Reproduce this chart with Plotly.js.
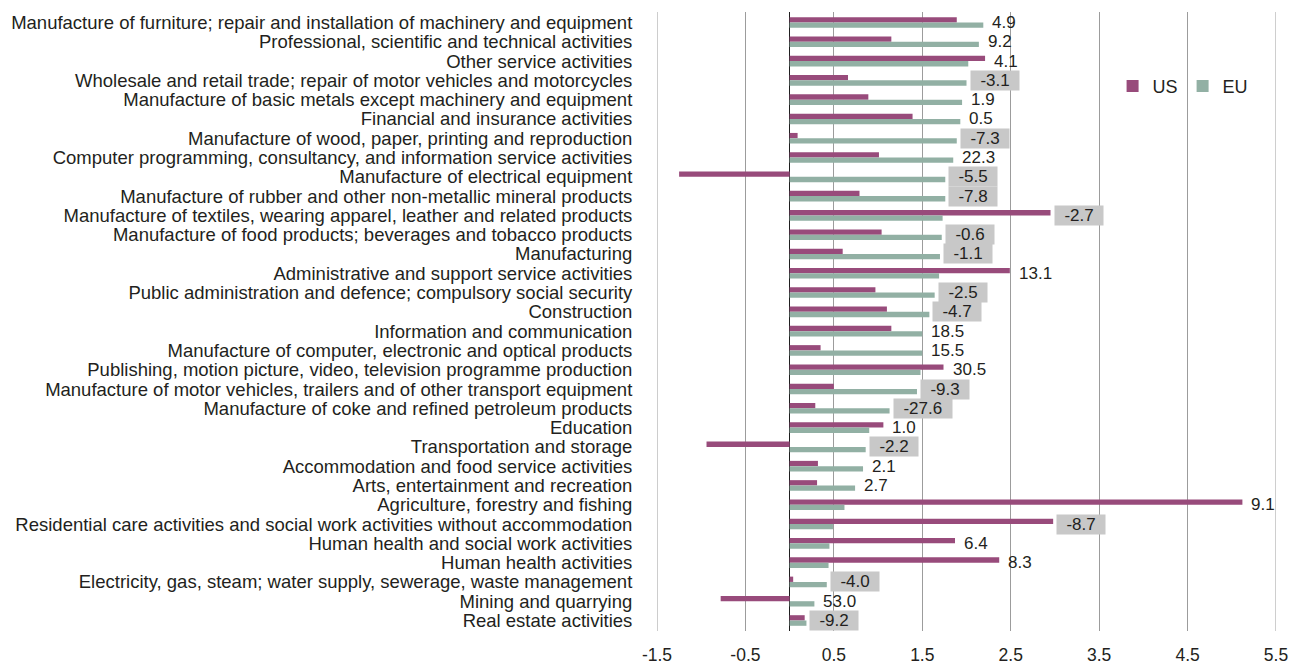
<!DOCTYPE html>
<html>
<head>
<meta charset="utf-8">
<script src="https://cdn.plot.ly/plotly-3.0.1.min.js"></script>
<style>
  html, body { margin: 0; padding: 0; background: #ffffff; }
  #chart { width: 1301px; height: 665px; }
</style>
</head>
<body>
<div id="chart"></div>
<script>
// Sectors, top to bottom
var categories = [
  "Manufacture of furniture; repair and installation of machinery and equipment",
  "Professional, scientific and technical activities",
  "Other service activities",
  "Wholesale and retail trade; repair of motor vehicles and motorcycles",
  "Manufacture of basic metals except machinery and equipment",
  "Financial and insurance activities",
  "Manufacture of wood, paper, printing and reproduction",
  "Computer programming, consultancy, and information service activities",
  "Manufacture of electrical equipment",
  "Manufacture of rubber and other non-metallic mineral products",
  "Manufacture of textiles, wearing apparel, leather and related products",
  "Manufacture of food products; beverages and tobacco products",
  "Manufacturing",
  "Administrative and support service activities",
  "Public administration and defence; compulsory social security",
  "Construction",
  "Information and communication",
  "Manufacture of computer, electronic and optical products",
  "Publishing, motion picture, video, television programme production",
  "Manufacture of motor vehicles, trailers and of other transport equipment",
  "Manufacture of coke and refined petroleum products",
  "Education",
  "Transportation and storage",
  "Accommodation and food service activities",
  "Arts, entertainment and recreation",
  "Agriculture, forestry and fishing",
  "Residential care activities and social work activities without accommodation",
  "Human health and social work activities",
  "Human health activities",
  "Electricity, gas, steam; water supply, sewerage, waste management",
  "Mining and quarrying",
  "Real estate activities"
];

// US series
var usValues = [1.89, 1.15, 2.21, 0.66, 0.89, 1.39, 0.09, 1.01, -1.25, 0.79,
                2.95, 1.04, 0.60, 2.49, 0.97, 1.10, 1.15, 0.35, 1.74, 0.50,
                0.29, 1.06, -0.94, 0.32, 0.31, 5.12, 2.98, 1.87, 2.37, 0.04,
                -0.78, 0.17];

// EU series
var euValues = [2.19, 2.14, 2.02, 2.00, 1.95, 1.93, 1.89, 1.85, 1.76, 1.76,
                1.73, 1.72, 1.70, 1.69, 1.64, 1.58, 1.50, 1.50, 1.48, 1.44,
                1.13, 0.90, 0.86, 0.83, 0.74, 0.62, 0.49, 0.45, 0.44, 0.42,
                0.28, 0.19];

// Value shown beside each sector
var sideLabels = ["4.9", "9.2", "4.1", "-3.1", "1.9", "0.5", "-7.3", "22.3", "-5.5", "-7.8",
                  "-2.7", "-0.6", "-1.1", "13.1", "-2.5", "-4.7", "18.5", "15.5", "30.5", "-9.3",
                  "-27.6", "1.0", "-2.2", "2.1", "2.7", "9.1", "-8.7", "6.4", "8.3", "-4.0",
                  "53.0", "-9.2"];

// Value-axis ticks
var xTickVals = [-1.5, -0.5, 0.5, 1.5, 2.5, 3.5, 4.5, 5.5];
var xTickText = ["-1.5", "-0.5", "0.5", "1.5", "2.5", "3.5", "4.5", "5.5"];

var FONT = "Liberation Sans, Arial, Helvetica, sans-serif";
var TEXT = "#231f20";
var GRID = "#9c9c9c";
var US_COLOR = "#984b7b";
var EU_COLOR = "#92b0a4";

var traces = [
  {
    type: "bar", orientation: "h", name: "US",
    y: categories, x: usValues,
    marker: { color: US_COLOR, line: { width: 0 } },
    hoverinfo: "x+y"
  },
  {
    type: "bar", orientation: "h", name: "EU",
    y: categories, x: euValues,
    marker: { color: EU_COLOR, line: { width: 0 } },
    hoverinfo: "x+y"
  }
];

// Labels sit just past the longer of the two bars; negative ones get a grey box
var annotations = categories.map(function (cat, i) {
  var neg = sideLabels[i].charAt(0) === "-";
  var end = Math.max(usValues[i], euValues[i], 0);
  return {
    x: end, y: cat, xref: "x", yref: "y",
    text: neg ? "\u00a0\u00a0" + sideLabels[i] + "\u00a0\u00a0" : sideLabels[i],
    showarrow: false,
    xanchor: "left", yanchor: "middle",
    xshift: neg ? 3 : 8,
    bgcolor: neg ? "#c8c8c8" : "rgba(0,0,0,0)",
    borderpad: 0,
    font: { family: FONT, size: 17, color: TEXT }
  };
});

// Gridlines on the two outer ticks, which sit on the plot edges
var edgeLines = [xTickVals[0], xTickVals[xTickVals.length - 1]].map(function (v) {
  return {
    type: "line", xref: "x", yref: "paper",
    x0: v, x1: v, y0: 0, y1: 1,
    line: { color: GRID, width: 1 },
    layer: "below"
  };
});

var layout = {
  width: 1301, height: 665,
  margin: { l: 657, r: 25, t: 12, b: 34, pad: 0 },
  paper_bgcolor: "#ffffff", plot_bgcolor: "#ffffff",
  font: { family: FONT, color: TEXT },
  barmode: "group",
  bargap: 0.45, bargroupgap: 0,
  showlegend: true,
  legend: {
    orientation: "h",
    x: 0.736, xanchor: "left",
    y: 0.88, yanchor: "middle",
    bgcolor: "rgba(0,0,0,0)",
    font: { family: FONT, size: 18, color: TEXT },
    traceorder: "normal"
  },
  xaxis: {
    range: [-1.5, 5.5],
    tickmode: "array", tickvals: xTickVals, ticktext: xTickText,
    showgrid: true, gridcolor: GRID, gridwidth: 1,
    zeroline: true, zerolinecolor: "#1e1e1e", zerolinewidth: 1.5,
    showline: false,
    ticks: "outside", ticklen: 8, tickcolor: "rgba(0,0,0,0)",
    tickfont: { family: FONT, size: 17.5, color: TEXT },
    fixedrange: true
  },
  yaxis: {
    type: "category",
    autorange: "reversed",
    tickmode: "array", tickvals: categories, ticktext: categories,
    showgrid: false, zeroline: false, showline: false,
    ticks: "outside", ticklen: 20, tickcolor: "rgba(0,0,0,0)",
    tickfont: { family: FONT, size: 18.5, color: TEXT },
    fixedrange: true
  },
  shapes: edgeLines,
  annotations: annotations
};

Plotly.newPlot("chart", traces, layout, { displayModeBar: false, staticPlot: true });
</script>
</body>
</html>
